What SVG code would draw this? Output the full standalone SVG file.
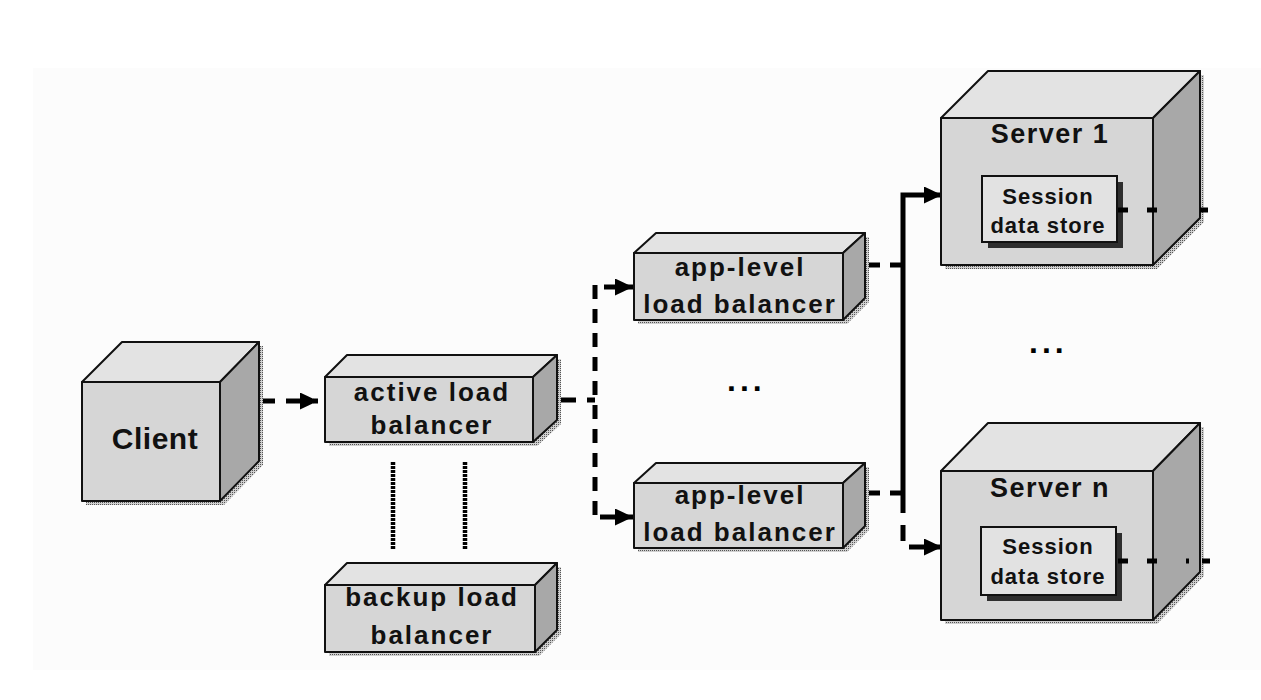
<svg xmlns="http://www.w3.org/2000/svg" width="1261" height="700" viewBox="0 0 1261 700">
<style>
.front{fill:#d6d6d6;stroke:#111;stroke-width:2;stroke-linejoin:round}
.top{fill:#e3e3e3;stroke:#111;stroke-width:2;stroke-linejoin:round}
.side{fill:#a8a8a8;stroke:#111;stroke-width:2;stroke-linejoin:round}
.shadow{fill:url(#dots)}
.lbl{font-family:"Liberation Sans",Arial,sans-serif;font-weight:bold;fill:#111;text-anchor:middle}
.big{font-size:26px;letter-spacing:2px}
.client{font-size:30px;letter-spacing:0.5px}
.srv{font-size:27px;letter-spacing:1.5px}
.sess{font-size:22px;letter-spacing:1px}
.conn{fill:none;stroke:#000;stroke-width:5}
.dash{stroke-dasharray:16 11}
.fine{fill:none;stroke:#000;stroke-width:4.5;stroke-dasharray:3 1}
.sbox{fill:#e2e2e2;stroke:#111;stroke-width:2}
.sshadow{fill:#2e2e2e}
.dots{font-family:"Liberation Sans",Arial,sans-serif;font-weight:bold;font-size:32px;letter-spacing:4px;fill:#000}
</style>
<defs>
<pattern id="dots" width="2" height="2" patternUnits="userSpaceOnUse">
<rect width="2" height="2" fill="#d0d0d0"/>
<rect width="1" height="1" fill="#555"/>
</pattern>
<marker id="arr" viewBox="0 0 18 17" refX="18" refY="8.5" markerWidth="18" markerHeight="17" markerUnits="userSpaceOnUse" orient="auto">
<path d="M0,0 L18,8.5 L0,17 z" fill="#000"/>
</marker>
</defs>
<rect x="0" y="0" width="1261" height="700" fill="#fff"/>
<rect x="33" y="68" width="1228" height="602" fill="#fcfcfc"/>

<g id="connectors">
<path class="conn dash" d="M259,401 H318" marker-end="url(#arr)"/>
<path class="conn" d="M558,400 H576 M587,400 H595"/>
<path class="conn" d="M595,285 V517" stroke-dasharray="14 10"/>
<path class="conn" d="M604,287 H633" marker-end="url(#arr)"/>
<path class="conn" d="M600,517 H633" marker-end="url(#arr)"/>
<path class="conn" d="M865,265 H880 M890,265 H903"/>
<path class="conn" d="M865,493 H880 M890,493 H903"/>
<path class="conn" d="M903,513 V195 H942" marker-end="url(#arr)" stroke-linejoin="miter"/>
<path class="conn" d="M903,525 V541"/>
<path class="conn" d="M909,547 H942" marker-end="url(#arr)"/>
<path class="fine" d="M393,462 V549"/>
<path class="fine" d="M465,462 V549"/>
</g>

<g id="client">
<polygon class="shadow" points="86,386 126,346 263,346 263,465 224,505 86,505"/>
<rect class="front" x="82" y="382" width="138" height="119"/>
<polygon class="top" points="82,382 122,342 259,342 220,382"/>
<polygon class="side" points="220,382 259,342 259,461 220,501"/>
<text class="lbl client" x="155" y="449">Client</text>
</g>

<g id="active-lb">
<polygon class="shadow" points="329,381 351,359 561,359 561,424 537,446 329,446"/>
<rect class="front" x="325" y="377" width="208" height="65"/>
<polygon class="top" points="325,377 347,355 557,355 533,377"/>
<polygon class="side" points="533,377 557,355 557,420 533,442"/>
<text class="lbl big" x="432" y="401">active load</text>
<text class="lbl big" x="432" y="434">balancer</text>
</g>

<g id="backup-lb">
<polygon class="shadow" points="329,589 351,567 561,567 561,634 539,656 329,656"/>
<rect class="front" x="325" y="585" width="210" height="67"/>
<polygon class="top" points="325,585 347,563 557,563 535,585"/>
<polygon class="side" points="535,585 557,563 557,630 535,652"/>
<text class="lbl big" x="432" y="606">backup load</text>
<text class="lbl big" x="432" y="644">balancer</text>
</g>

<g id="app-lb-1">
<polygon class="shadow" points="638,257 660,237 869,237 869,302 847,324 638,324"/>
<rect class="front" x="634" y="253" width="209" height="67"/>
<polygon class="top" points="634,253 656,233 865,233 843,253"/>
<polygon class="side" points="843,253 865,233 865,298 843,320"/>
<text class="lbl big" x="740" y="276">app-level</text>
<text class="lbl big" x="740" y="313">load balancer</text>
</g>

<g id="app-lb-2">
<polygon class="shadow" points="638,487 660,467 869,467 869,530 847,552 638,552"/>
<rect class="front" x="634" y="483" width="209" height="65"/>
<polygon class="top" points="634,483 656,463 865,463 843,483"/>
<polygon class="side" points="843,483 865,463 865,526 843,548"/>
<text class="lbl big" x="740" y="504">app-level</text>
<text class="lbl big" x="740" y="541">load balancer</text>
</g>

<g id="server-1">
<polygon class="shadow" points="945,122 992,75 1204,75 1204,222 1157,269 945,269"/>
<rect class="front" x="941" y="118" width="212" height="147"/>
<polygon class="top" points="941,118 988,71 1200,71 1153,118"/>
<polygon class="side" points="1153,118 1200,71 1200,218 1153,265"/>
<text class="lbl srv" x="1050" y="143">Server 1</text>
<rect class="sshadow" x="988" y="182" width="135" height="66"/>
<rect class="sbox" x="982" y="176" width="135" height="66"/>
<text class="lbl sess" x="1048" y="204">Session</text>
<text class="lbl sess" x="1048" y="233">data store</text>
<path class="conn" d="M1118,210 H1208" stroke-dasharray="10 19 10 43 8"/>
</g>

<g id="server-n">
<polygon class="shadow" points="945,475 992,427 1204,427 1204,576 1157,624 945,624"/>
<rect class="front" x="941" y="471" width="212" height="149"/>
<polygon class="top" points="941,471 988,423 1200,423 1153,471"/>
<polygon class="side" points="1153,471 1200,423 1200,572 1153,620"/>
<text class="lbl srv" x="1050" y="497">Server n</text>
<rect class="sshadow" x="987" y="533" width="135" height="68"/>
<rect class="sbox" x="981" y="527" width="135" height="68"/>
<text class="lbl sess" x="1048" y="554">Session</text>
<text class="lbl sess" x="1048" y="584">data store</text>
<path class="conn" d="M1118,561 H1210" stroke-dasharray="10 19 10 29 3 13 8"/>
</g>

<text class="dots" x="727" y="391">...</text>
<text class="dots" x="1029" y="353">...</text>
</svg>
